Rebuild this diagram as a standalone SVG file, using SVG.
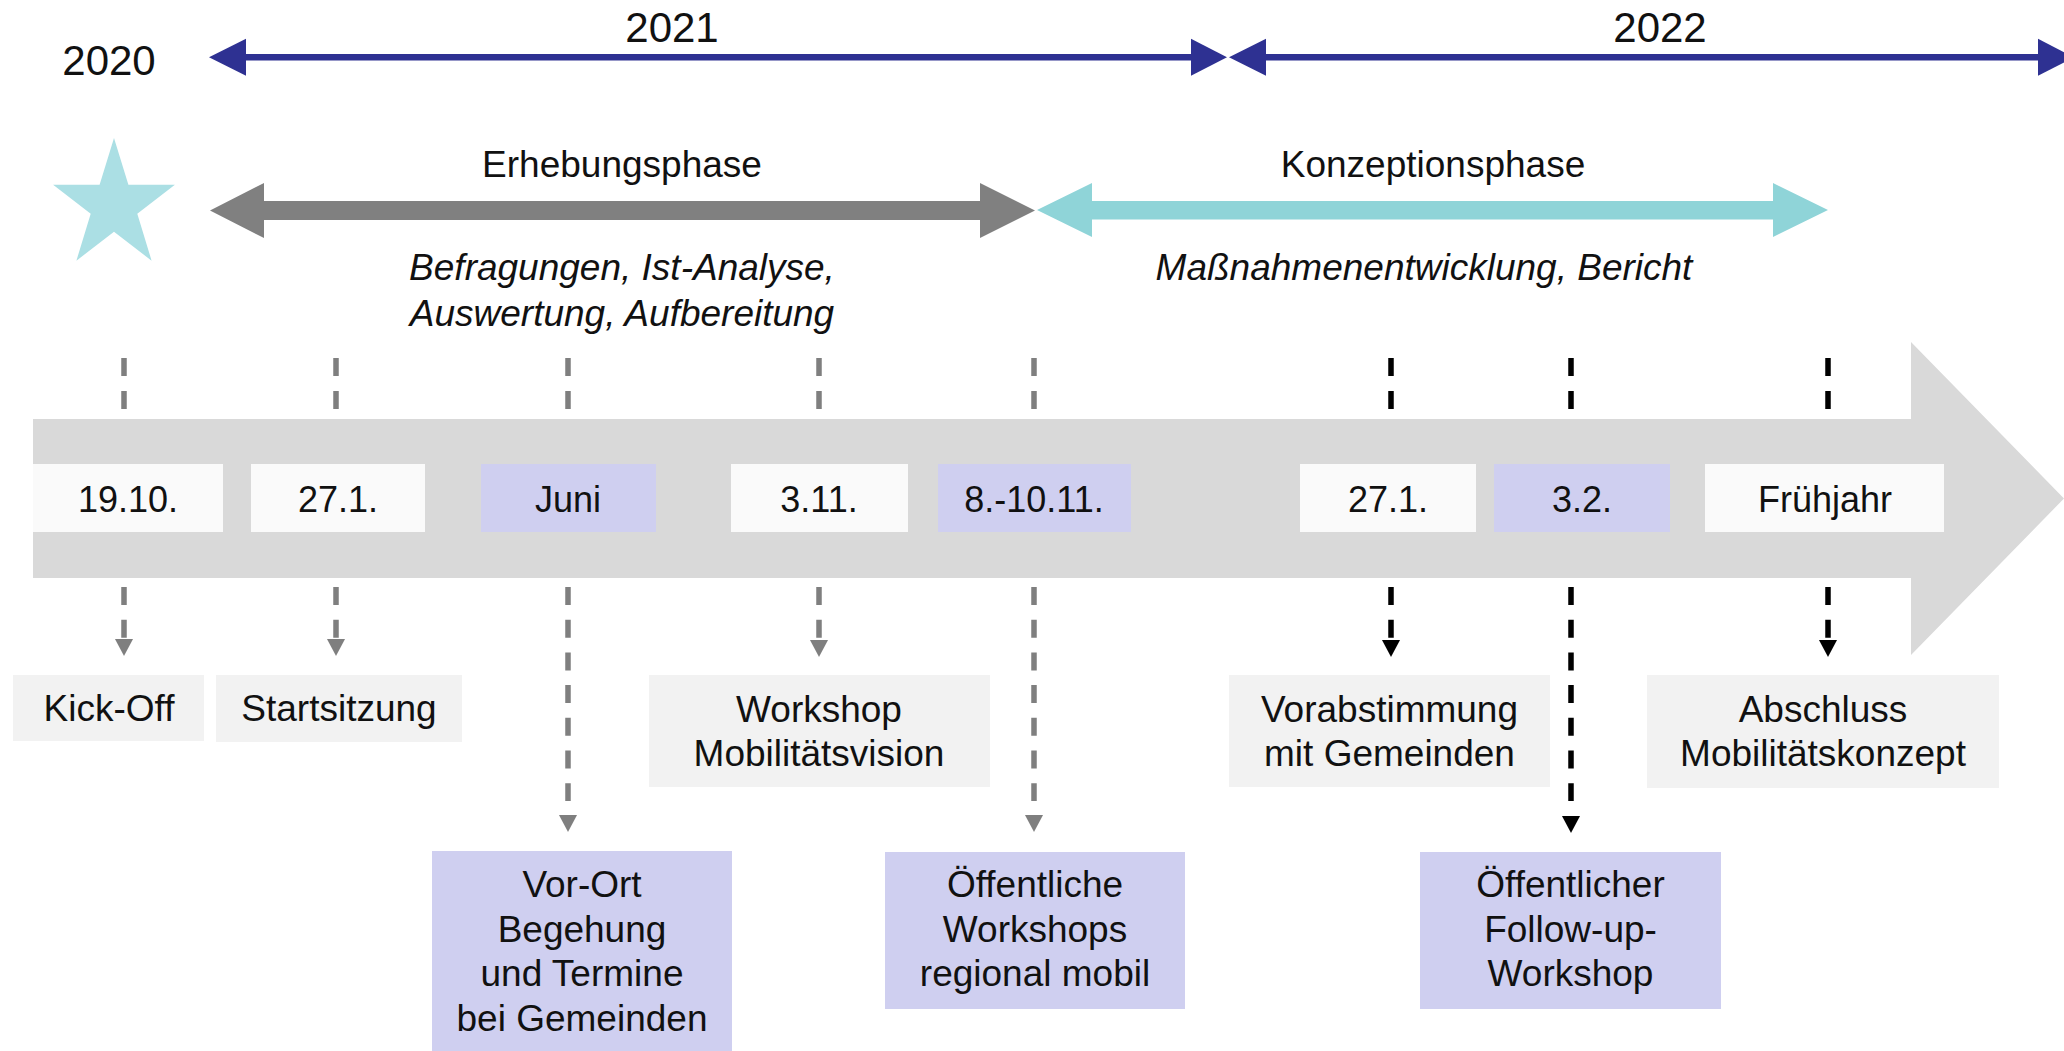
<svg xmlns="http://www.w3.org/2000/svg" xmlns:xlink="http://www.w3.org/1999/xlink" width="2064" height="1051" viewBox="0 0 2064 1051">
<style>
text{font-family:"Liberation Sans",Arial,sans-serif;fill:#111;text-anchor:middle}
.yr{font-size:42px}
.ph{font-size:37px}
.it{font-size:37px;font-style:italic}
.dt{font-size:36px}
.bx{font-size:37px}
.wb{fill:#fafafa}
.lv{fill:#cfcff0}
.lg{fill:#f2f2f2}
.dg{stroke:#7f7f7f;stroke-width:5.5;stroke-dasharray:18 14.7;fill:none}
.dk{stroke:#000;stroke-width:5.5;stroke-dasharray:18 14.7;fill:none}
.dgu{stroke:#7f7f7f;stroke-width:5.5;stroke-dasharray:18 15;fill:none}
.dku{stroke:#000;stroke-width:5.5;stroke-dasharray:18 15;fill:none}
</style>
<defs>
<path id="ah" d="M-9,0 L9,0 L0,17 Z"/>
</defs>
<rect width="2064" height="1051" fill="#fff"/>

<g id="years">
<text class="yr" x="109" y="75">2020</text>
<text class="yr" x="672" y="42">2021</text>
<text class="yr" x="1660" y="42">2022</text>
<g fill="#2e3192">
<rect x="240" y="54" width="958" height="6.5"/>
<polygon points="209,57.3 246,38.8 246,75.8"/>
<polygon points="1227,57.3 1191,38.8 1191,75.8"/>
<rect x="1260" y="54" width="790" height="6.5"/>
<polygon points="1229,57.3 1266,38.8 1266,75.8"/>
<polygon points="2074,57.3 2038,38.8 2038,75.8"/>
</g>
</g>

<g id="star">
<polygon fill="#abdfe4" points="114,138 128.4,184.8 174.9,184.8 137.3,213.8 151.6,260.7 114,231.8 76.4,260.7 90.7,213.8 53.1,184.8 99.6,184.8"/>
</g>

<g id="phase-erhebung">
<polygon fill="#808080" points="210,210.5 264,183 264,201 980,201 980,183 1035,210.5 980,238 980,220 264,220 264,238"/>
<text class="ph" x="622" y="177">Erhebungsphase</text>
<text class="it" x="622" y="280">Befragungen, Ist-Analyse,</text>
<text class="it" x="622" y="326">Auswertung, Aufbereitung</text>
</g>

<g id="phase-konzeption">
<polygon fill="#8fd4d8" points="1037,210 1092,183 1092,201 1773,201 1773,183 1828,210 1773,237 1773,219.5 1092,219.5 1092,237"/>
<text class="ph" x="1433" y="177">Konzeptionsphase</text>
<text class="it" x="1424" y="280">Maßnahmenentwicklung, Bericht</text>
</g>

<g id="timeline">
<polygon fill="#d9d9d9" points="33,419 1911,419 1911,342 2064,498.5 1911,655 1911,578 33,578"/>
</g>

<g id="connectors">
<line class="dgu" x1="124" y1="358" x2="124" y2="410"/>
<line class="dgu" x1="336" y1="358" x2="336" y2="410"/>
<line class="dgu" x1="568" y1="358" x2="568" y2="410"/>
<line class="dgu" x1="819" y1="358" x2="819" y2="410"/>
<line class="dgu" x1="1034" y1="358" x2="1034" y2="410"/>
<line class="dku" x1="1391" y1="358" x2="1391" y2="410"/>
<line class="dku" x1="1571" y1="358" x2="1571" y2="410"/>
<line class="dku" x1="1828" y1="358" x2="1828" y2="410"/>

<line class="dg" x1="124" y1="587" x2="124" y2="638"/>
<use href="#ah" x="124" y="639" fill="#7f7f7f"/>
<line class="dg" x1="336" y1="587" x2="336" y2="638"/>
<use href="#ah" x="336" y="639" fill="#7f7f7f"/>
<line class="dg" x1="568" y1="587" x2="568" y2="801"/>
<use href="#ah" x="568" y="815" fill="#7f7f7f"/>
<line class="dg" x1="819" y1="587" x2="819" y2="638"/>
<use href="#ah" x="819" y="640" fill="#7f7f7f"/>
<line class="dg" x1="1034" y1="587" x2="1034" y2="801"/>
<use href="#ah" x="1034" y="815" fill="#7f7f7f"/>
<line class="dk" x1="1391" y1="587" x2="1391" y2="638"/>
<use href="#ah" x="1391" y="640" fill="#000"/>
<line class="dk" x1="1571" y1="587" x2="1571" y2="801"/>
<use href="#ah" x="1571" y="816" fill="#000"/>
<line class="dk" x1="1828" y1="587" x2="1828" y2="638"/>
<use href="#ah" x="1828" y="640" fill="#000"/>
</g>

<g id="d-1910"><rect class="wb" x="33" y="464" width="190" height="68"/><text class="dt" x="128" y="512">19.10.</text></g>
<g id="d-271a"><rect class="wb" x="251" y="464" width="174" height="68"/><text class="dt" x="338" y="512">27.1.</text></g>
<g id="d-juni"><rect class="lv" x="481" y="464" width="175" height="68"/><text class="dt" x="568" y="512">Juni</text></g>
<g id="d-311"><rect class="wb" x="731" y="464" width="177" height="68"/><text class="dt" x="819" y="512">3.11.</text></g>
<g id="d-81011"><rect class="lv" x="938" y="464" width="193" height="68"/><text class="dt" x="1034" y="512">8.-10.11.</text></g>
<g id="d-271b"><rect class="wb" x="1300" y="464" width="176" height="68"/><text class="dt" x="1388" y="512">27.1.</text></g>
<g id="d-32"><rect class="lv" x="1494" y="464" width="176" height="68"/><text class="dt" x="1582" y="512">3.2.</text></g>
<g id="d-fruehjahr"><rect class="wb" x="1705" y="464" width="239" height="68"/><text class="dt" x="1825" y="512">Frühjahr</text></g>

<g id="n-kickoff"><rect class="lg" x="13" y="675" width="191" height="66"/><text class="bx" x="109" y="721">Kick-Off</text></g>
<g id="n-startsitzung"><rect class="lg" x="216" y="675" width="246" height="67"/><text class="bx" x="339" y="721">Startsitzung</text></g>
<g id="n-workshop"><rect class="lg" x="649" y="675" width="341" height="112"/><text class="bx" x="819" y="722">Workshop</text><text class="bx" x="819" y="766">Mobilitätsvision</text></g>
<g id="n-vorab"><rect class="lg" x="1229" y="675" width="321" height="112"/><text class="bx" x="1389.5" y="722">Vorabstimmung</text><text class="bx" x="1389.5" y="766">mit Gemeinden</text></g>
<g id="n-abschluss"><rect class="lg" x="1647" y="675" width="352" height="113"/><text class="bx" x="1823" y="722">Abschluss</text><text class="bx" x="1823" y="766">Mobilitätskonzept</text></g>
<g id="n-vorort"><rect class="lv" x="432" y="851" width="300" height="205"/><text class="bx" x="582" y="897">Vor-Ort</text><text class="bx" x="582" y="941.5">Begehung</text><text class="bx" x="582" y="986">und Termine</text><text class="bx" x="582" y="1030.5">bei Gemeinden</text></g>
<g id="n-oeffws"><rect class="lv" x="885" y="852" width="300" height="157"/><text class="bx" x="1035" y="897">Öffentliche</text><text class="bx" x="1035" y="941.5">Workshops</text><text class="bx" x="1035" y="986">regional mobil</text></g>
<g id="n-followup"><rect class="lv" x="1420" y="852" width="301" height="157"/><text class="bx" x="1570.5" y="897">Öffentlicher</text><text class="bx" x="1570.5" y="941.5">Follow-up-</text><text class="bx" x="1570.5" y="986">Workshop</text></g>
</svg>
